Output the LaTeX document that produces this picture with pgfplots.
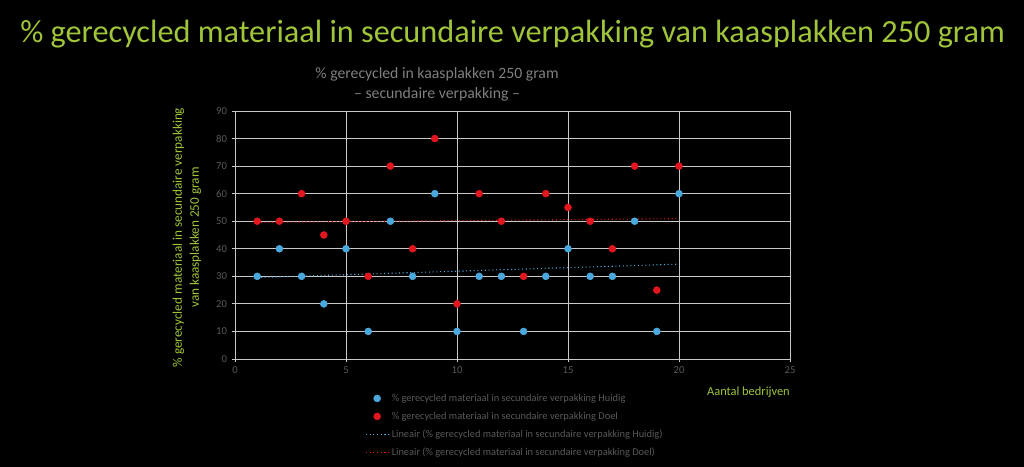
\documentclass[border=0pt]{standalone}
\usepackage{pgfplots}
\usepackage{pgfplotstable}
\pgfplotsset{compat=1.18}
\usepackage{fontspec}
\setmainfont{Carlito}
\definecolor{titlegreen}{RGB}{160,196,58}
\definecolor{tickgray}{RGB}{89,89,89}
\definecolor{titlegray}{RGB}{128,128,128}
\definecolor{gridgray}{RGB}{200,200,200}
\definecolor{dotblue}{RGB}{75,168,220}
\definecolor{dotred}{RGB}{226,22,30}
\pgfplotstableread{
x h d
1 30 50
2 40 50
3 30 60
4 20 45
5 40 50
6 10 30
7 50 70
8 30 40
9 60 80
10 10 20
11 30 60
12 30 50
13 10 30
14 30 60
15 40 55
16 30 50
17 30 40
18 50 70
19 10 25
20 60 70
}\data
\begin{document}
\begin{tikzpicture}
\path[use as bounding box, fill=black] (0,0) rectangle (768pt,350.25pt);
\node[anchor=base, text=titlegreen, font=\fontsize{24.2}{27}\selectfont] at (384.4pt,318.5pt)
  {\% gerecycled materiaal in secundaire verpakking van kaasplakken 250 gram};
\begin{axis}[
  at={(176.25pt,81pt)}, anchor=south west,
  scale only axis, width=416.25pt, height=186pt,
  xmin=0, xmax=25, ymin=0, ymax=90,
  xtick={0,5,...,25}, ytick={0,10,...,90},
  grid=major,
  major grid style={gridgray, line width=0.6pt},
  axis line style={gridgray, line width=0.6pt},
  tick style={gridgray, line width=0.6pt},
  tick align=outside, major tick length=2.5pt,
  xtick pos=bottom, ytick pos=left,
  /pgf/number format/assume math mode=true,
  tick label style={text=tickgray, font=\fontsize{8}{9}\selectfont},
  title={\% gerecycled in kaasplakken 250 gram\\– secundaire verpakking –},
  title style={at={(0.364,1.076)}, anchor=center, align=center, text=titlegray, font=\fontsize{11.8}{15}\selectfont},
  xlabel={Aantal bedrijven},
  xlabel style={at={(1,-0.133)}, anchor=east, inner sep=0pt, text=titlegreen, font=\fontsize{9.3}{11}\selectfont},
  ylabel={\% gerecycled materiaal in secundaire verpakking\\van kaasplakken 250 gram},
  ylabel style={at={(-0.0865,0.49)}, anchor=center, rotate=0, align=center, text=titlegreen, font=\fontsize{9.9}{12.8}\selectfont},
  legend style={at={(0.227,-0.115)}, anchor=north west, draw=none, fill=none,
    text=tickgray, font=\fontsize{7.8}{9}\selectfont,
    nodes={text height=6pt, text depth=2pt, inner sep=2pt},
    row sep=1.5pt},
  legend cell align=left,
]
\addplot[only marks, mark=*, mark size=2.6pt, color=dotblue] table[x=x, y=h] {\data};
\addlegendentry{\% gerecycled materiaal in secundaire verpakking Huidig}
\addplot[only marks, mark=*, mark size=2.6pt, color=dotred] table[x=x, y=d] {\data};
\addlegendentry{\% gerecycled materiaal in secundaire verpakking Doel}
\addplot[no markers, dotblue, line width=0.8pt, dotted] table[x=x, y={create col/linear regression={y=h}}] {\data};
\addlegendentry{Lineair (\% gerecycled materiaal in secundaire verpakking Huidig)}
\addplot[no markers, dotred, line width=0.8pt, dotted] table[x=x, y={create col/linear regression={y=d}}] {\data};
\addlegendentry{Lineair (\% gerecycled materiaal in secundaire verpakking Doel)}
\end{axis}
\end{tikzpicture}
\end{document}
